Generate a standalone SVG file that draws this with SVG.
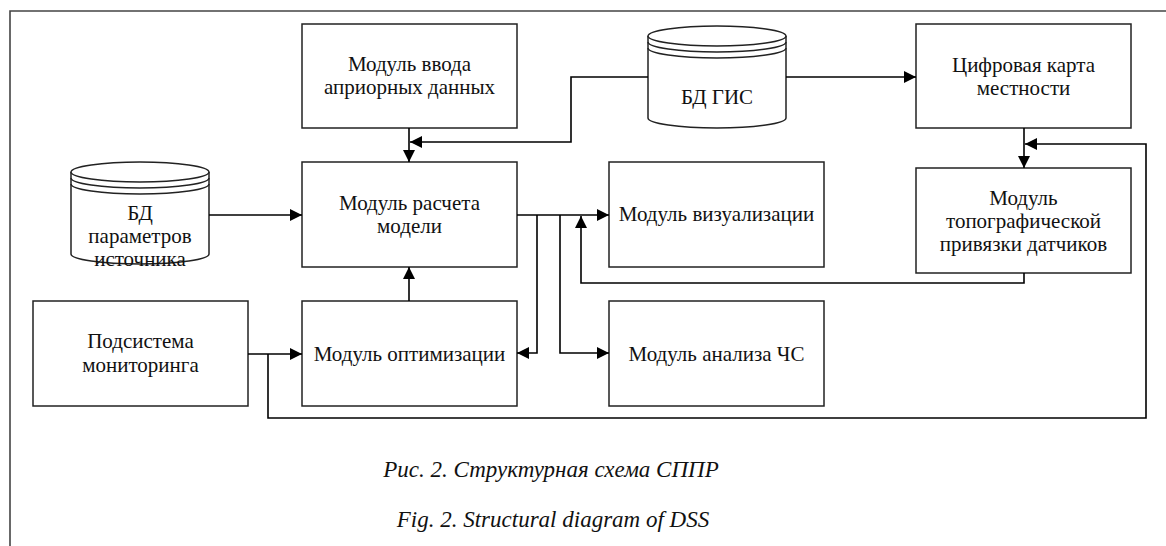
<svg xmlns="http://www.w3.org/2000/svg" width="1166" height="546" viewBox="0 0 1166 546">
  <defs>
    <marker id="arrow" markerUnits="userSpaceOnUse" markerWidth="12" markerHeight="12" refX="12" refY="6" orient="auto">
      <path d="M0,0 L12,6 L0,12 z" fill="#000"/>
    </marker>
    <style>
      .box { fill: #fff; stroke: #222; stroke-width: 1.5; }
      .cyl { fill: #fff; stroke: #222; stroke-width: 1.5; }
      .ring { fill: none; stroke: #222; stroke-width: 1.5; }
      .lbl { font-family: 'Liberation Serif', 'Times New Roman', serif; font-size: 21px; fill: #111; text-anchor: middle; }
      .cap { font-family: 'Liberation Serif', 'Times New Roman', serif; font-size: 23px; font-style: italic; fill: #111; text-anchor: middle; }
      .wire { fill: none; stroke: #000; stroke-width: 1.6; }
      .frame { fill: none; stroke: #444; stroke-width: 1.6; }
    </style>
  </defs>

  <rect width="1166" height="546" fill="#fff"/>
  <path class="frame" d="M10,546 V11 H1166"/>

  <g id="input-module">
    <rect class="box" x="302" y="24" width="215" height="104"/>
    <text class="lbl" x="409.5" y="71">Модуль ввода</text>
    <text class="lbl" x="409.5" y="94">априорных данных</text>
  </g>

  <g id="gis-db">
    <path class="cyl" d="M648,36 V118 A69,10 0 0 0 786,118 V36"/>
    <ellipse class="cyl" cx="717" cy="36" rx="69" ry="10"/>
    <path class="ring" d="M648,42 A69,10 0 0 0 786,42 M648,48 A69,10 0 0 0 786,48"/>
    <text class="lbl" x="717" y="104">БД ГИС</text>
  </g>

  <g id="digital-map">
    <rect class="box" x="916" y="24" width="215" height="104"/>
    <text class="lbl" x="1023.5" y="72">Цифровая карта</text>
    <text class="lbl" x="1023.5" y="95">местности</text>
  </g>

  <g id="source-db">
    <path class="cyl" d="M71,172 V254 A69,10 0 0 0 209,254 V172"/>
    <ellipse class="cyl" cx="140" cy="172" rx="69" ry="10"/>
    <path class="ring" d="M71,178 A69,10 0 0 0 209,178 M71,184 A69,10 0 0 0 209,184"/>
    <text class="lbl" x="140" y="220">БД</text>
    <text class="lbl" x="140" y="243">параметров</text>
    <text class="lbl" x="140" y="266">источника</text>
  </g>

  <g id="model-module">
    <rect class="box" x="302" y="162" width="215" height="105"/>
    <text class="lbl" x="409.5" y="210">Модуль расчета</text>
    <text class="lbl" x="409.5" y="233">модели</text>
  </g>

  <g id="visual-module">
    <rect class="box" x="609" y="162" width="215" height="105"/>
    <text class="lbl" x="716.5" y="221">Модуль визуализации</text>
  </g>

  <g id="topo-module">
    <rect class="box" x="916" y="168" width="215" height="105"/>
    <text class="lbl" x="1023.5" y="205">Модуль</text>
    <text class="lbl" x="1023.5" y="228">топографической</text>
    <text class="lbl" x="1023.5" y="251">привязки датчиков</text>
  </g>

  <g id="monitoring">
    <rect class="box" x="33" y="301" width="215" height="105"/>
    <text class="lbl" x="140.5" y="348">Подсистема</text>
    <text class="lbl" x="140.5" y="372">мониторинга</text>
  </g>

  <g id="optim-module">
    <rect class="box" x="302" y="301" width="215" height="105"/>
    <text class="lbl" x="409.5" y="361">Модуль оптимизации</text>
  </g>

  <g id="analysis-module">
    <rect class="box" x="609" y="301" width="215" height="105"/>
    <text class="lbl" x="716.5" y="361">Модуль анализа ЧС</text>
  </g>

  <g id="caption">
    <text class="cap" x="551" y="477">Рис. 2. Структурная схема СППР</text>
    <text class="cap" x="553" y="527">Fig. 2. Structural diagram of DSS</text>
  </g>

  <g id="connectors">
    <path class="wire" d="M409,128 V162" marker-end="url(#arrow)"/>
    <path class="wire" d="M648,77 H571 V142 H410" marker-end="url(#arrow)"/>
    <path class="wire" d="M786,77 H916" marker-end="url(#arrow)"/>
    <path class="wire" d="M1024,128 V168" marker-end="url(#arrow)"/>
    <path class="wire" d="M268,354 V418 H1146 V144 H1025" marker-end="url(#arrow)"/>
    <path class="wire" d="M248,354 H302" marker-end="url(#arrow)"/>
    <path class="wire" d="M209,215 H302" marker-end="url(#arrow)"/>
    <path class="wire" d="M517,215 H609" marker-end="url(#arrow)"/>
    <path class="wire" d="M537,215 V353 H517" marker-end="url(#arrow)"/>
    <path class="wire" d="M560,215 V353 H609" marker-end="url(#arrow)"/>
    <path class="wire" d="M1024,273 V283 H581 V216" marker-end="url(#arrow)"/>
    <path class="wire" d="M409,301 V267" marker-end="url(#arrow)"/>
  </g>
</svg>
